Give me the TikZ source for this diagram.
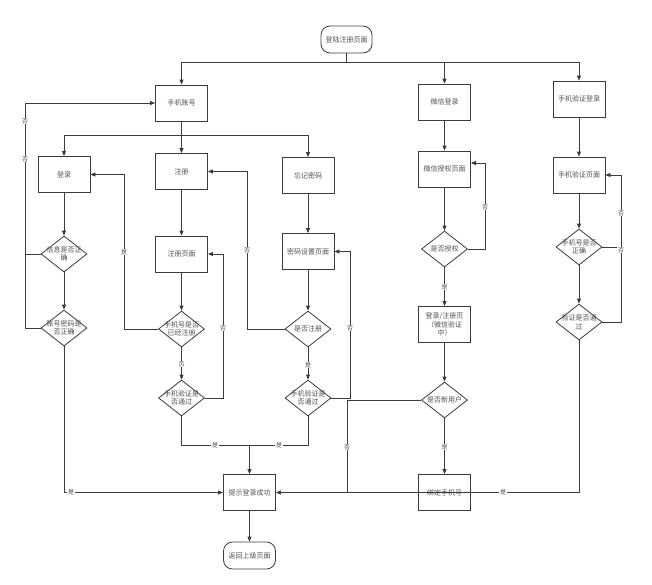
\documentclass[tikz,border=0pt]{standalone}
\usepackage{fontspec}
\setmainfont{Noto Sans CJK SC}
\usetikzlibrary{arrows.meta,shapes.geometric,calc}
\definecolor{lncol}{HTML}{3C3C3C}
\definecolor{txcol}{HTML}{505050}
\begin{document}
\begin{tikzpicture}[x=1pt,y=-1pt,
  every node/.style={font=\fontsize{7}{8.5}\selectfont, text=txcol},
  procbox/.style={draw=lncol, line width=0.8pt, fill=white, minimum width=52pt, minimum height=36pt, inner sep=1pt, align=center},
  termbox/.style={procbox, rounded corners=9pt, minimum height=27pt},
  diabox/.style={draw=lncol, line width=0.8pt, fill=white, diamond, minimum width=46pt, minimum height=36pt, inner sep=0pt},
  arrline/.style={draw=lncol, line width=0.8pt, -{Triangle[length=5pt,width=4pt]}},
  plainline/.style={draw=lncol, line width=0.8pt},
  edgelab/.style={fill=white, inner sep=0.6pt, font=\fontsize{6}{7}\selectfont}]
\fill[white] (0,0) rectangle (652,584);
\useasboundingbox (0,0) rectangle (652,584);

% nodes
\node[termbox, minimum width=51pt] (start) at (346.5,39.5) {登陆注册页面};
\node[procbox] (phone) at (181.5,103) {手机账号};
\node[procbox] (wx) at (444.5,102) {微信登录};
\node[procbox] (smsl) at (579,99) {手机验证登录};
\node[procbox] (login) at (64,174.5) {登录};
\node[procbox] (reg) at (181.5,171.5) {注册};
\node[procbox] (forgot) at (308,175.5) {忘记密码};
\node[procbox] (wxauth) at (444.5,169) {微信授权页面};
\node[procbox] (smsp) at (579,175) {手机验证页面};
\node[diabox, label={[align=center]center:{信息是否正\\确}}] (dinfo) at (64,254) {};
\node[procbox] (regpage) at (181.5,254) {注册页面};
\node[procbox] (pwdpage) at (308,251.5) {密码设置页面};
\node[diabox, label={[align=center]center:{是否授权}}] (dauth) at (444.5,249) {};
\node[diabox, label={[align=center]center:{手机号是否\\正确}}] (dphone) at (579,247) {};
\node[diabox, label={[align=center]center:{账号密码是\\否正确}}] (dacct) at (64,328) {};
\node[diabox, label={[align=center]center:{手机号是否\\已经注册}}] (dreg) at (181.5,329) {};
\node[diabox, label={[align=center]center:{是否注册}}] (disreg) at (308,329) {};
\node[procbox] (wxreg) at (444.5,324.5) {登录/注册页\\（微信验证\\中）};
\node[diabox, label={[align=center]center:{验证是否通\\过}}] (dcode) at (579,322) {};
\node[diabox, label={[align=center]center:{手机验证是\\否通过}}] (dsms1) at (181.5,398) {};
\node[diabox, label={[align=center]center:{手机验证是\\否通过}}] (dsms2) at (308,398) {};
\node[diabox, label={[align=center]center:{是否新用户}}] (dnew) at (444.5,400) {};
\node[procbox] (success) at (249.5,492.5) {提示登录成功};
\node[procbox] (bind) at (444.5,492.5) {绑定手机号};
\node[termbox] (back) at (249.5,555.5) {返回上级页面};

% junction coordinates
\coordinate (j0) at (346.5,62);
\coordinate (j1) at (181.5,135);
\coordinate (lx1) at (25,254);
\coordinate (lx2) at (25,328);
\coordinate (la) at (64,492.5);
\coordinate (c124) at (124,329);
\coordinate (c223) at (223,398);
\coordinate (c247) at (247,329);
\coordinate (c350) at (350,398);
\coordinate (j2) at (249.5,445);
\coordinate (c485) at (485,249);
\coordinate (c347) at (347,400);
\coordinate (c347b) at (347,492.5);
\coordinate (c621a) at (621,247);
\coordinate (c621b) at (621,322);
\coordinate (c579) at (579,492.5);

% top distribution
\draw[plainline] (start) -- (j0);
\draw[arrline] (j0) -| (phone);
\draw[arrline] (j0) -| (wx);
\draw[arrline] (j0) -| (smsl);
\draw[plainline] (phone) -- (j1);
\draw[arrline] (j1) -- (reg);
\draw[arrline] (j1) -| (login);
\draw[arrline] (j1) -| (forgot);

% login column
\draw[arrline] (login) -- (dinfo);
\draw[arrline] (dinfo) -- (dacct);
\draw[plainline] (dinfo.west) -- (lx1);
\draw[arrline] (dacct.west) -- (lx2) |- (phone.west);
\draw[arrline] (dacct.south) -- (la) -- (success.west);

% register column
\draw[arrline] (reg) -- (regpage);
\draw[arrline] (regpage) -- (dreg);
\draw[arrline] (dreg) -- (dsms1);
\draw[arrline] (dreg.west) -- (c124) |- (login.east);
\draw[arrline] (dsms1.east) -- (c223) |- (regpage.east);

% forgot column
\draw[arrline] (forgot) -- (pwdpage);
\draw[arrline] (pwdpage) -- (disreg);
\draw[arrline] (disreg) -- (dsms2);
\draw[arrline] (disreg.west) -- (c247) |- (reg.east);
\draw[arrline] (dsms2.east) -- (c350) |- (pwdpage.east);
\draw[plainline] (dsms1.south) |- (j2);
\draw[plainline] (dsms2.south) |- (j2);
\draw[arrline] (j2) -- (success);

% wechat column
\draw[arrline] (wx) -- (wxauth);
\draw[arrline] (wxauth) -- (dauth);
\draw[arrline] (dauth) -- (wxreg);
\draw[arrline] (wxreg) -- (dnew);
\draw[arrline] (dnew) -- (bind);
\draw[arrline] (dauth.east) -- (c485) |- ([yshift=6pt]wxauth.east);
\draw[plainline] (dnew.west) -- (c347) -- (c347b);

% sms column
\draw[arrline] (smsl) -- (smsp);
\draw[arrline] (smsp) -- (dphone);
\draw[arrline] (dphone) -- (dcode);
\draw[plainline] (dphone.east) -- (c621a);
\draw[arrline] (dcode.east) -- (c621b) |- (smsp.east);
\draw[arrline] (dcode.south) -- (c579) -- (success.east);

\draw[arrline] (success) -- (back);

% edge labels
\node[edgelab] (l1) at (25,121) {否};
\node[edgelab] (l2) at (25,159) {否};
\node[edgelab] (l3) at (71,492.5) {是};
\node[edgelab] (l4) at (124,252) {是};
\node[edgelab] (l5) at (181.5,364) {否};
\node[edgelab] (l6) at (223,328) {否};
\node[edgelab] (l7) at (247,250) {否};
\node[edgelab] (l8) at (308,365) {是};
\node[edgelab] (l9) at (350,328) {否};
\node[edgelab] (l10) at (215,445) {是};
\node[edgelab] (l11) at (279,445) {是};
\node[edgelab] (l12) at (485,207) {否};
\node[edgelab] (l13) at (444.5,287) {是};
\node[edgelab] (l14) at (347,447) {否};
\node[edgelab] (l15) at (444.5,447) {是};
\node[edgelab] (l16) at (621,213) {否};
\node[edgelab] (l17) at (621,250) {否};
\node[edgelab] (l18) at (503,492.5) {是};
\end{tikzpicture}
\end{document}
